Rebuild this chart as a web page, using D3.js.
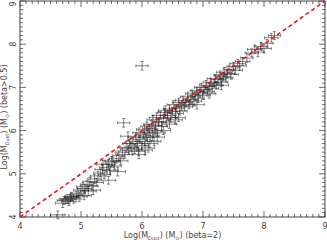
<!DOCTYPE html>
<html>
<head>
<meta charset="utf-8">
<script src="https://cdn.jsdelivr.net/npm/d3@7"></script>
<style>
  body { margin: 0; background: #fff; }
  svg { display: block; }
  text { font-family: "DejaVu Sans", sans-serif; fill: #444; }
</style>
</head>
<body>
<svg width="327" height="240"></svg>
<script>
// dust mass, beta=2 (x) vs beta>0.5 (y), both log Msun
let massBeta2 = [4.62, 4.70, 4.75, 4.80, 4.83, 4.88, 4.92, 4.97, 5.00, 5.03,
    5.06, 5.10, 5.12, 5.15, 5.18, 5.22, 5.25, 5.28, 5.20, 5.32,
    5.35, 5.38, 5.42, 5.45, 5.48, 5.52, 5.55, 5.58, 5.62, 5.65,
    5.68, 5.70, 5.72, 5.75, 5.78, 5.80, 5.82, 5.85, 5.88, 5.90,
    5.92, 5.94, 5.95, 5.97, 6.00, 6.00, 6.02, 6.04, 6.05, 6.07,
    6.08, 6.10, 6.12, 6.13, 6.15, 6.17, 6.18, 6.20, 6.22, 6.24,
    6.25, 6.28, 6.30, 6.32, 6.35, 6.37, 6.40, 6.42, 6.45, 6.47,
    6.50, 6.52, 6.55, 6.57, 6.60, 6.62, 6.65, 6.67, 6.70, 6.72,
    6.75, 6.77, 6.80, 6.82, 6.85, 6.87, 6.90, 6.92, 6.95, 6.97,
    7.00, 7.02, 7.05, 7.07, 7.10, 7.12, 7.15, 7.18, 7.20, 7.22,
    7.25, 7.28, 7.30, 7.33, 7.35, 7.38, 7.40, 7.43, 7.46, 7.50,
    7.53, 7.57, 7.60, 7.65, 7.72, 7.80, 7.85, 7.90, 7.95, 8.00,
    8.05, 8.12, 8.17, 5.77, 5.36, 5.50, 6.38, 6.45, 6.60, 6.90,
    6.20, 6.05, 5.95, 6.35, 7.10, 7.30, 5.60, 5.45, 5.05, 4.72,
    4.78, 4.85, 4.95, 6.10, 6.25, 6.55];
let massBeta05 = [4.05, 4.32, 4.40, 4.36, 4.45, 4.42, 4.50, 4.47, 4.62, 4.70,
    4.66, 4.75, 4.60, 4.82, 4.72, 4.88, 4.80, 4.95, 4.62, 5.02,
    5.10, 4.98, 5.15, 5.22, 5.08, 5.28, 5.18, 5.35, 5.42, 5.30,
    5.50, 6.18, 5.45, 5.60, 5.55, 5.70, 5.62, 5.75, 5.58, 5.85,
    5.70, 5.52, 5.95, 5.80, 5.65, 7.50, 5.90, 6.02, 5.75, 5.85,
    6.10, 5.95, 6.05, 5.70, 6.15, 5.88, 6.25, 6.00, 6.12, 6.30,
    5.95, 6.20, 6.35, 6.10, 6.28, 6.42, 6.20, 6.35, 6.50, 6.30,
    6.45, 6.60, 6.40, 6.52, 6.65, 6.45, 6.58, 6.70, 6.55, 6.65,
    6.78, 6.60, 6.72, 6.85, 6.68, 6.80, 6.92, 6.75, 6.88, 7.00,
    6.82, 6.95, 7.05, 6.90, 7.02, 7.12, 6.98, 7.10, 7.20, 7.05,
    7.18, 7.28, 7.12, 7.25, 7.35, 7.22, 7.32, 7.42, 7.30, 7.48,
    7.40, 7.55, 7.50, 7.60, 7.68, 7.80, 7.88, 7.82, 7.95, 7.90,
    8.02, 8.15, 8.20, 5.87, 5.22, 5.30, 6.47, 6.15, 6.30, 6.60,
    5.75, 5.55, 5.45, 6.00, 6.85, 7.05, 5.05, 4.85, 4.50, 4.38,
    4.42, 4.47, 4.55, 5.60, 5.85, 6.25];
let errBeta2 = [0.12, 0.12, 0.11, 0.12, 0.10, 0.12, 0.11, 0.13, 0.12, 0.10,
    0.12, 0.11, 0.13, 0.12, 0.10, 0.11, 0.12, 0.13, 0.12, 0.11,
    0.12, 0.10, 0.12, 0.11, 0.13, 0.12, 0.11, 0.12, 0.10, 0.12,
    0.11, 0.10, 0.12, 0.11, 0.13, 0.12, 0.10, 0.11, 0.12, 0.13,
    0.12, 0.11, 0.10, 0.12, 0.11, 0.10, 0.12, 0.13, 0.11, 0.12,
    0.10, 0.12, 0.11, 0.13, 0.12, 0.11, 0.10, 0.12, 0.11, 0.12,
    0.13, 0.11, 0.12, 0.10, 0.12, 0.11, 0.13, 0.12, 0.10, 0.11,
    0.12, 0.11, 0.13, 0.12, 0.10, 0.12, 0.11, 0.12, 0.13, 0.11,
    0.12, 0.10, 0.12, 0.11, 0.13, 0.12, 0.11, 0.10, 0.12, 0.11,
    0.12, 0.13, 0.11, 0.12, 0.10, 0.12, 0.11, 0.12, 0.13, 0.11,
    0.12, 0.10, 0.11, 0.12, 0.13, 0.11, 0.12, 0.10, 0.12, 0.11,
    0.12, 0.13, 0.11, 0.12, 0.10, 0.11, 0.12, 0.10, 0.11, 0.12,
    0.10, 0.11, 0.10, 0.12, 0.11, 0.12, 0.11, 0.12, 0.11, 0.12,
    0.11, 0.12, 0.10, 0.12, 0.11, 0.12, 0.13, 0.12, 0.12, 0.11,
    0.12, 0.11, 0.12, 0.11, 0.12, 0.11];
let errBeta05 = [0.09, 0.10, 0.09, 0.10, 0.08, 0.10, 0.09, 0.11, 0.10, 0.09,
    0.10, 0.09, 0.11, 0.10, 0.09, 0.10, 0.09, 0.11, 0.10, 0.09,
    0.10, 0.09, 0.10, 0.11, 0.09, 0.10, 0.09, 0.10, 0.11, 0.09,
    0.10, 0.10, 0.09, 0.10, 0.11, 0.09, 0.10, 0.09, 0.11, 0.10,
    0.09, 0.10, 0.11, 0.09, 0.10, 0.10, 0.09, 0.11, 0.10, 0.09,
    0.10, 0.11, 0.09, 0.10, 0.09, 0.11, 0.10, 0.09, 0.10, 0.11,
    0.09, 0.10, 0.09, 0.11, 0.10, 0.09, 0.10, 0.11, 0.09, 0.10,
    0.09, 0.10, 0.11, 0.09, 0.10, 0.09, 0.11, 0.10, 0.09, 0.10,
    0.11, 0.09, 0.10, 0.09, 0.11, 0.10, 0.09, 0.10, 0.11, 0.09,
    0.10, 0.09, 0.11, 0.10, 0.09, 0.10, 0.11, 0.09, 0.10, 0.09,
    0.11, 0.10, 0.09, 0.10, 0.11, 0.09, 0.10, 0.09, 0.11, 0.10,
    0.09, 0.10, 0.11, 0.09, 0.10, 0.09, 0.10, 0.11, 0.09, 0.10,
    0.09, 0.10, 0.09, 0.10, 0.09, 0.10, 0.10, 0.10, 0.09, 0.10,
    0.10, 0.11, 0.10, 0.09, 0.10, 0.10, 0.10, 0.09, 0.10, 0.09,
    0.10, 0.09, 0.10, 0.10, 0.09, 0.10];
let majorTicks = [4, 5, 6, 7, 8, 9];

let svg = d3.select("svg");
let plotLeft = 20, plotRight = 325, plotTop = 1, plotBottom = 217;

let x = d3.scaleLinear().domain([4, 9]).range([plotLeft, plotRight]),
    y = d3.scaleLinear().domain([4, 9]).range([plotBottom, plotTop]);

let minorTicks = d3.range(40, 91);  // tenths
let ink = "#444";

// frame
svg.append("rect")
    .attr("x", plotLeft).attr("y", plotTop)
    .attr("width", plotRight - plotLeft).attr("height", plotBottom - plotTop)
    .attr("fill", "none").attr("stroke", ink).attr("stroke-width", 1);

// ticks on all four sides, pointing in
let tickG = svg.append("g").attr("stroke", ink).attr("stroke-width", 0.8);
minorTicks.forEach(function (k) {
    let t = k / 10;
    let len = k % 10 === 0 ? 6 : 3;
    tickG.append("line").attr("x1", x(t)).attr("x2", x(t)).attr("y1", plotBottom).attr("y2", plotBottom - len);
    tickG.append("line").attr("x1", x(t)).attr("x2", x(t)).attr("y1", plotTop).attr("y2", plotTop + len);
    tickG.append("line").attr("y1", y(t)).attr("y2", y(t)).attr("x1", plotLeft).attr("x2", plotLeft + len);
    tickG.append("line").attr("y1", y(t)).attr("y2", y(t)).attr("x1", plotRight).attr("x2", plotRight - len);
});

svg.append("g").selectAll("text")
    .data(majorTicks)
    .enter().append("text")
    .attr("x", function (d) { return x(d); })
    .attr("y", 229)
    .attr("text-anchor", "middle")
    .style("font-size", "8px")
    .text(function (d) { return d; });

svg.append("g").selectAll("text")
    .data(majorTicks)
    .enter().append("text")
    .attr("transform", function (d) { return "translate(16," + Math.max(y(d), 4) + ") rotate(-90)"; })
    .attr("text-anchor", "middle")
    .style("font-size", "8px")
    .text(function (d) { return d; });

// axis titles
let xt = svg.append("text")
    .attr("x", (plotLeft + plotRight) / 2).attr("y", 237.5)
    .attr("text-anchor", "middle")
    .style("font-size", "8px");
xt.append("tspan").text("Log(M");
xt.append("tspan").attr("dy", 2).style("font-size", "5px").text("Dust");
xt.append("tspan").attr("dy", -2).text(") (M");
xt.append("tspan").attr("dy", 2).style("font-size", "5px").text("\u2299");
xt.append("tspan").attr("dy", -2).text(") (beta=2)");

let yt = svg.append("text")
    .attr("transform", "translate(7," + ((plotTop + plotBottom) / 2 + 8) + ") rotate(-90)")
    .attr("text-anchor", "middle")
    .style("font-size", "8px");
yt.append("tspan").text("Log(M");
yt.append("tspan").attr("dy", 2).style("font-size", "5px").text("Dust");
yt.append("tspan").attr("dy", -2).text(") (M");
yt.append("tspan").attr("dy", 2).style("font-size", "5px").text("\u2299");
yt.append("tspan").attr("dy", -2).text(") (beta>0.5)");

// error crosses
let pts = massBeta2.map(function (m, i) {
    return {x: m, y: massBeta05[i], ex: errBeta2[i], ey: errBeta05[i]};
});
let cap = 1.5;
svg.append("g")
    .attr("stroke", "#111")
    .attr("stroke-width", 0.7)
    .attr("stroke-opacity", 0.72)
    .selectAll("path")
    .data(pts)
    .enter().append("path")
    .attr("fill", "none")
    .attr("d", function (d) {
        let x0 = x(d.x - d.ex), x1 = x(d.x + d.ex), yc = y(d.y);
        let y0 = y(d.y + d.ey), y1 = y(d.y - d.ey), xc = x(d.x);
        return "M" + x0 + "," + yc + "H" + x1 +
            "M" + x0 + "," + (yc - cap) + "V" + (yc + cap) +
            "M" + x1 + "," + (yc - cap) + "V" + (yc + cap) +
            "M" + xc + "," + y0 + "V" + y1 +
            "M" + (xc - cap) + "," + y0 + "H" + (xc + cap) +
            "M" + (xc - cap) + "," + y1 + "H" + (xc + cap);
    });

// one-to-one line
svg.append("line")
    .attr("x1", x(4)).attr("y1", y(4))
    .attr("x2", x(9)).attr("y2", y(9))
    .attr("stroke", "#e8141a")
    .attr("stroke-width", 1.6)
    .attr("stroke-dasharray", "4,3");
</script>
</body>
</html>
